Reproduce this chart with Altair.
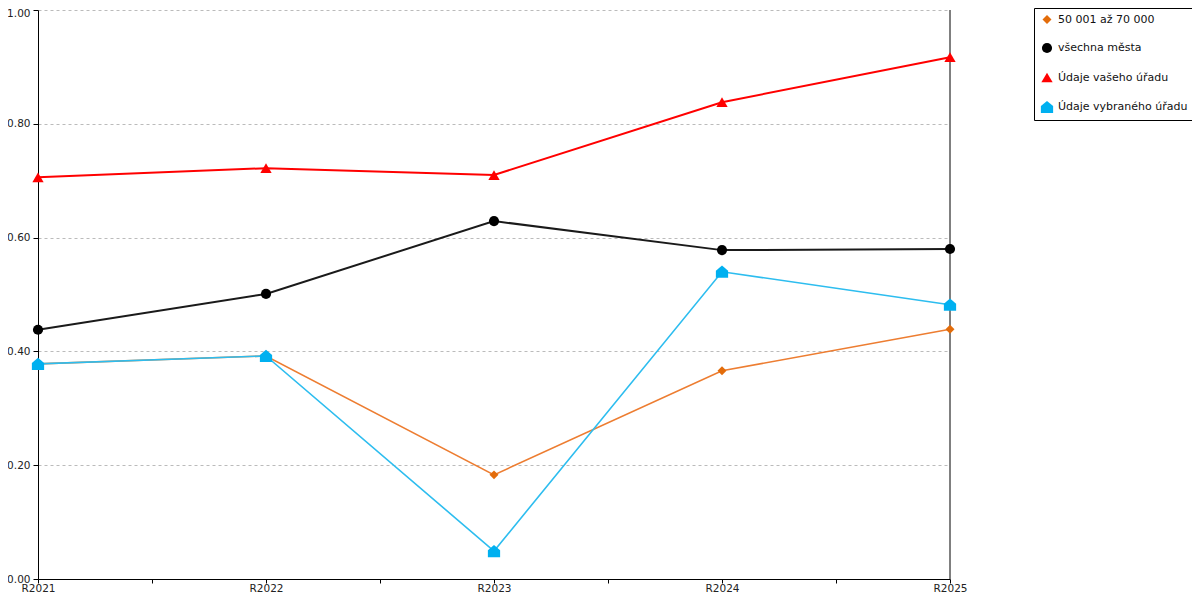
import altair as alt
import pandas as pd

years = ["R2021", "R2022", "R2023", "R2024", "R2025"]
series_names = ["50 001 až 70 000", "všechna města", "Údaje vašeho úřadu", "Údaje vybraného úřadu"]
orange_vals = [0.378, 0.392, 0.183, 0.366, 0.439]
black_vals = [0.438, 0.501, 0.629, 0.578, 0.580]
red_vals = [0.706, 0.722, 0.710, 0.838, 0.917]
blue_vals = [0.378, 0.392, 0.049, 0.540, 0.482]

line_colors = ["#ED7D31", "#1A1A1A", "#FF0000", "#2DBDEF"]
point_colors = ["#E36C0A", "#000000", "#FF0000", "#00B0F0"]
house = "M-1,1L1,1L1,-0.15L0,-1L-1,-0.15Z"
shapes = ["diamond", "circle", "triangle-up", house]
sizes = [80, 150, 150, 140]
widths = [1.6, 2.0, 2.0, 1.6]

rows = []
for k, (name, vals) in enumerate(zip(series_names, [orange_vals, black_vals, red_vals, blue_vals])):
    for i, (yr, v) in enumerate(zip(years, vals)):
        rows.append({"series": name, "order": k, "idx": i, "year": yr, "value": v,
                     "lc": line_colors[k], "lw": widths[k]})
df = pd.DataFrame(rows)

label_expr = "['R2021','R2022','R2023','R2024','R2025'][datum.value]"
x_enc = alt.X(
    "idx:Q",
    scale=alt.Scale(domain=[0, 4], nice=False, zero=False),
    axis=alt.Axis(
        values=[0, 0.5, 1, 1.5, 2, 2.5, 3, 3.5, 4],
        labelExpr="datum.value % 1 == 0 ? " + label_expr + " : ''",
        grid=False, title=None, domainColor="black", tickColor="black",
        tickSize=4, labelFont="DejaVu Sans", labelFontSize=10.5, labelColor="#222",
        labelPadding=0, labelFlush=False,
    ),
)
y_enc = alt.Y(
    "value:Q",
    scale=alt.Scale(domain=[0, 1], nice=False),
    axis=alt.Axis(
        values=[0, 0.2, 0.4, 0.6, 0.8, 1.0], format=".2f", title=None,
        grid=True, gridDash=[3, 3], gridColor="#BBBBBB", domainColor="black",
        tickColor="black", tickSize=5, labelFont="DejaVu Sans", labelFontSize=10.5,
        labelColor="#222", labelPadding=3,
        labelOffset={"condition": {"test": "datum.value == 1", "value": 3}, "value": 0},
    ),
)

lines = alt.Chart(df).mark_line().encode(
    x=x_enc, y=y_enc,
    stroke=alt.Stroke("lc:N", scale=None),
    strokeWidth=alt.StrokeWidth("lw:Q", scale=None),
    detail="series:N",
)

points = alt.Chart(df).mark_point(filled=True, opacity=1).encode(
    x="idx:Q", y="value:Q",
    color=alt.Color(
        "series:N",
        scale=alt.Scale(domain=series_names, range=point_colors),
        legend=alt.Legend(
            title=None, orient="none", legendX=996, legendY=-2,
            strokeColor="black", fillColor="white", padding=6,
            labelFont="DejaVu Sans", labelFontSize=11, labelColor="#111",
            rowPadding=17, symbolSize=90, labelLimit=300, labelOffset=4,
        ),
    ),
    shape=alt.Shape("series:N", scale=alt.Scale(domain=series_names, range=shapes)),
    size=alt.Size("series:N", scale=alt.Scale(domain=series_names, range=sizes), legend=None),
)

right_rule = alt.Chart(pd.DataFrame({"x": [4]})).mark_rule(color="black", strokeWidth=1).encode(
    x="x:Q", y=alt.value(0), y2=alt.value(569)
)

chart = alt.layer(lines, right_rule, points).properties(
    width=912, height=569,
    autosize=alt.AutoSizeParams(type="none"),
    padding={"left": 30, "top": 2, "right": 242, "bottom": 13},
).configure_view(stroke=None)

chart.save("out.html", embed_options={"renderer": "svg", "actions": False})
